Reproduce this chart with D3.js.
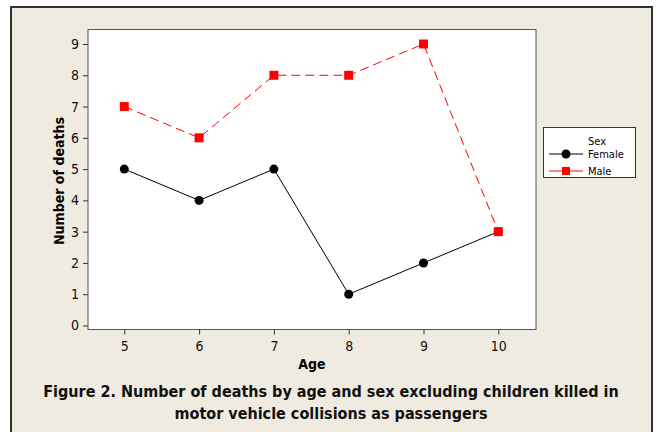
<!DOCTYPE html>
<html><head><meta charset="utf-8">
<script src="https://cdn.jsdelivr.net/npm/d3@7"></script>
<style>body{margin:0;background:#fff}svg{display:block}</style>
</head><body>
<script>
const ages = [5, 6, 7, 8, 9, 10];
const female = [5, 4, 5, 1, 2, 3];
const male = [7, 6, 8, 8, 9, 3];
const yTicks = [0,1,2,3,4,5,6,7,8,9];
const legendTitle = "Sex";
const seriesNames = ["Female", "Male"];
const xTitle = "Age";
const yTitle = "Number of deaths";
const caption = ["Figure 2. Number of deaths by age and sex excluding children killed in",
                 "motor vehicle collisions as passengers"];

const W = 659, H = 432;
const svg = d3.select("body").append("svg").attr("width", W).attr("height", H);
const font = "Tahoma, 'DejaVu Sans Condensed', 'DejaVu Sans', sans-serif";

// outer frame
svg.append("rect").attr("x", 11).attr("y", 7).attr("width", 641).attr("height", 440)
  .attr("fill", "#efebe1").attr("stroke", "#333").attr("stroke-width", 2);

const plot = {l: 88, t: 29.5, r: 536, b: 329.5};
svg.append("rect").attr("x", plot.l).attr("y", plot.t)
  .attr("width", plot.r - plot.l).attr("height", plot.b - plot.t)
  .attr("fill", "#fff").attr("stroke", "#555").attr("stroke-width", 1);

const x = d3.scaleLinear().domain([5, 10]).range([124.3, 498.3]);
const y = d3.scaleLinear().domain([0, 9]).range([325.5, 44]);

const yAxis = svg.append("g").attr("transform", `translate(${plot.l},0)`)
  .call(d3.axisLeft(y).tickValues(yTicks).tickSize(5).tickPadding(4));
yAxis.select(".domain").remove();
yAxis.selectAll("line").attr("stroke", "#333");
yAxis.selectAll("text").attr("font-family", font).attr("font-size", 14).attr("fill", "#111");

const xAxis = svg.append("g").attr("transform", `translate(0,${plot.b})`)
  .call(d3.axisBottom(x).tickValues(ages).tickFormat(d3.format("d")).tickSize(5).tickPadding(7));
xAxis.select(".domain").remove();
xAxis.selectAll("line").attr("stroke", "#333");
xAxis.selectAll("text").attr("font-family", font).attr("font-size", 14).attr("fill", "#111");

svg.append("text").attr("x", 312).attr("y", 369).attr("text-anchor", "middle")
  .attr("font-family", font).attr("font-weight", "bold").attr("font-size", 14).text(xTitle);
svg.append("text").attr("transform", "translate(64,181) rotate(-90)").attr("text-anchor", "middle")
  .attr("font-family", font).attr("font-weight", "bold").attr("font-size", 14).text(yTitle);

const line = d3.line().x((d, i) => x(ages[i])).y(d => y(d));
svg.append("path").attr("d", line(female)).attr("fill", "none").attr("stroke", "#000").attr("stroke-width", 1);
svg.selectAll(".fpt").data(female).enter().append("circle")
  .attr("cx", (d, i) => x(ages[i])).attr("cy", d => y(d)).attr("r", 4.5).attr("fill", "#000");
svg.append("path").attr("d", line(male)).attr("fill", "none").attr("stroke", "#f00")
  .attr("stroke-width", 1).attr("stroke-dasharray", "9,5");
const s = 9;
svg.selectAll(".mpt").data(male).enter().append("rect")
  .attr("x", (d, i) => x(ages[i]) - s / 2).attr("y", d => y(d) - s / 2)
  .attr("width", s).attr("height", s).attr("fill", "#f00");

// legend
const lg = svg.append("g");
lg.append("rect").attr("x", 543.5).attr("y", 127.5).attr("width", 92).attr("height", 50)
  .attr("fill", "#fff").attr("stroke", "#333");
lg.append("text").attr("x", 588).attr("y", 145).attr("font-family", font).attr("font-size", 11).text(legendTitle);
lg.append("text").attr("x", 588).attr("y", 158).attr("font-family", font).attr("font-size", 11).text(seriesNames[0]);
lg.append("text").attr("x", 588).attr("y", 175).attr("font-family", font).attr("font-size", 11).text(seriesNames[1]);
lg.append("line").attr("x1", 549).attr("x2", 583).attr("y1", 154).attr("y2", 154).attr("stroke", "#000");
lg.append("circle").attr("cx", 566).attr("cy", 154).attr("r", 4.5).attr("fill", "#000");
lg.append("line").attr("x1", 549).attr("x2", 583).attr("y1", 171).attr("y2", 171).attr("stroke", "#f00");
lg.append("rect").attr("x", 562).attr("y", 167).attr("width", 8).attr("height", 8).attr("fill", "#f00");

caption.forEach((c, i) => {
  svg.append("text").attr("x", 331).attr("y", 397 + i * 22).attr("text-anchor", "middle")
    .attr("font-family", font).attr("font-weight", "bold").attr("font-size", 16).attr("fill", "#111").text(c);
});
</script>
</body></html>
